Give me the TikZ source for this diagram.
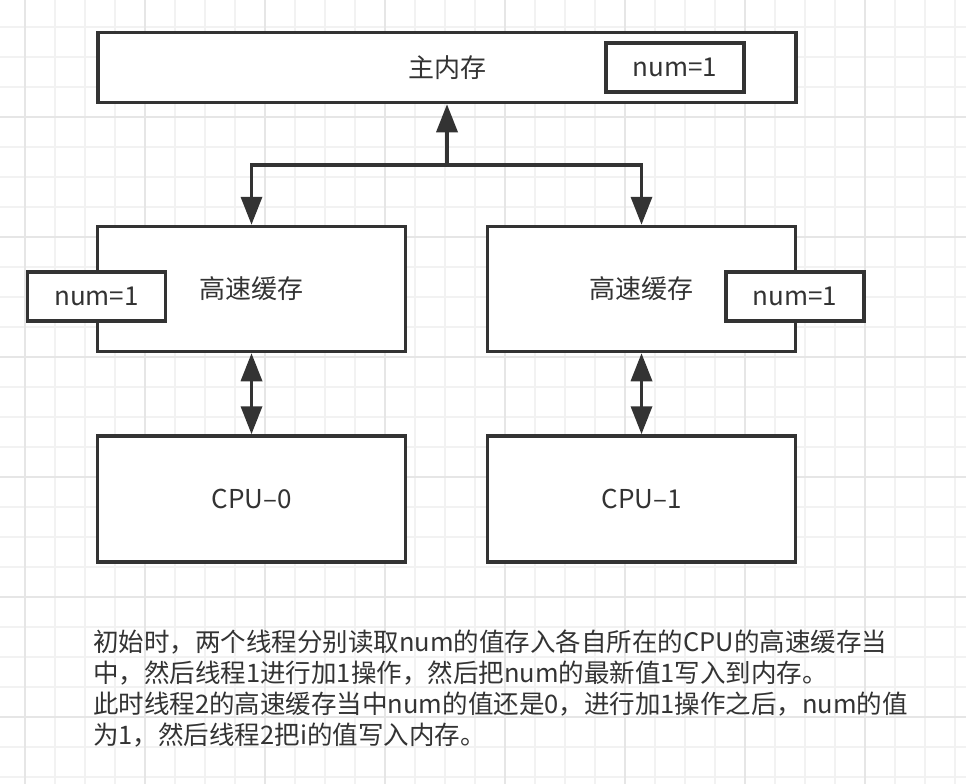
\documentclass[tikz,border=0pt]{standalone}
\usepackage{fontspec}
\setmainfont{Noto Sans CJK SC}
\usetikzlibrary{positioning,arrows.meta}
\definecolor{ink}{RGB}{51,51,51}
\definecolor{gridlight}{RGB}{242,242,242}
\definecolor{griddark}{RGB}{230,230,230}
\tikzset{box/.style={draw=ink, line width=3.5pt, fill=white, inner sep=0pt, text=ink}}
\tikzset{unit/.style={box, minimum width=308pt, minimum height=125pt}}
\tikzset{numbox/.style={box, minimum width=138pt, minimum height=49pt}}
\tikzset{link/.style={draw=ink, line width=3.5pt}}
\tikzset{note/.style={anchor=west, inner sep=0pt, text=ink, font=\fontsize{25.5}{31}\selectfont}}

\begin{document}
\begin{tikzpicture}[x=1pt, y=-1pt, font=\fontsize{26}{31}\selectfont,
                    >={Triangle[length=28pt, width=21pt]}]
    \useasboundingbox (0,0) rectangle (966,784);
    \fill[white] (0,0) rectangle (966,784);

    % grid
    \foreach \x in {25,55,...,955} \draw[gridlight, line width=1.5pt] (\x,0) -- (\x,784);
    \foreach \y in {27,57,...,777} \draw[gridlight, line width=1.5pt] (0,\y) -- (966,\y);
    \foreach \x in {25,145,...,925} \draw[griddark, line width=1.5pt] (\x,0) -- (\x,784);
    \foreach \y in {117,237,...,717} \draw[griddark, line width=1.5pt] (0,\y) -- (966,\y);

    % memoria y caches
    \node[box, minimum width=698pt, minimum height=70pt] (mem) at (447,67.5) {主内存};
    \node[numbox] (memnum) at (675,67.5) {num=1};

    \node[unit] (cache0) at (251.5,289) {高速缓存};
    \node[unit] (cache1) at (641.5,289) {高速缓存};
    \node[numbox] (num0) at (96.5,296.5) {num=1};
    \node[numbox] (num1) at (795,296.5) {num=1};

    \node[unit, minimum height=126pt] (cpu0) at (251.5,499) {CPU–0};
    \node[unit, minimum height=126pt] (cpu1) at (641.5,499) {CPU–1};

    \coordinate (jn) at (447,165);
    \draw[link, ->] (jn) -- (mem);
    \draw[link, ->] (jn) -| (cache0);
    \draw[link, ->] (jn) -| (cache1);
    \draw[link, <->] (cache0) -- (cpu0);
    \draw[link, <->] (cache1) -- (cpu1);

    % texto
    \node[note] (line1) at (93,642) {初始时，两个线程分别读取num的值存入各自所在的CPU的高速缓存当};
    \node[note] (line2) at (93,673) {中，然后线程1进行加1操作，然后把num的最新值1写入到内存。};
    \node[note] (line3) at (93,704) {此时线程2的高速缓存当中num的值还是0，进行加1操作之后，num的值};
    \node[note] (line4) at (93,735) {为1，然后线程2把i的值写入内存。};
\end{tikzpicture}
\end{document}
